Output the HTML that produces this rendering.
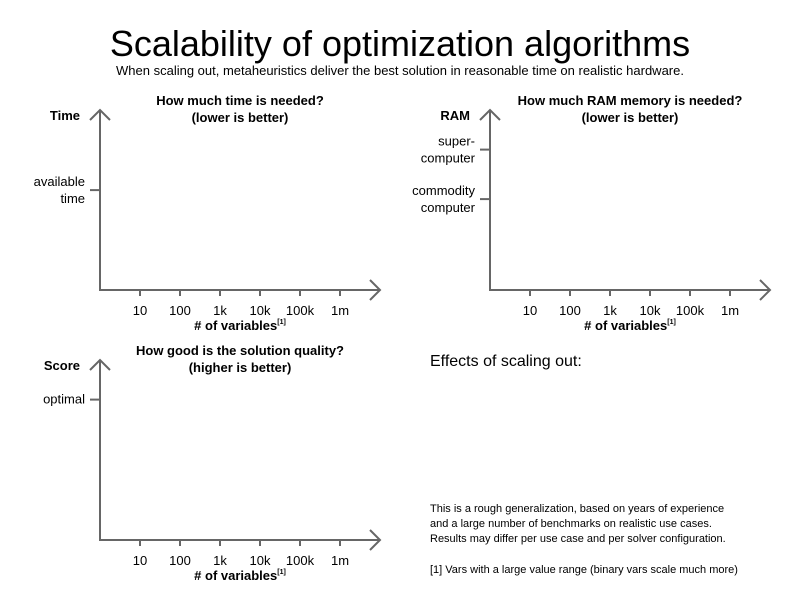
<!DOCTYPE html>
<html><head><meta charset="utf-8"><style>
body{margin:0;background:#fff;width:800px;height:600px;overflow:hidden}
svg{font-family:"Liberation Sans",Arial,sans-serif}
</style></head><body>
<svg id="c" width="800" height="600" viewBox="0 0 800 600">
<text x="400" y="56" font-size="36" text-anchor="middle">Scalability of optimization algorithms</text>
<text x="400" y="75" font-size="13" text-anchor="middle">When scaling out, metaheuristics deliver the best solution in reasonable time on realistic hardware.</text>
<text x="430" y="366" font-size="16">Effects of scaling out:</text>
<g font-size="11">
<text x="430" y="512">This is a rough generalization, based on years of experience</text>
<text x="430" y="527">and a large number of benchmarks on realistic use cases.</text>
<text x="430" y="542">Results may differ per use case and per solver configuration.</text>
<text x="430" y="573">[1] Vars with a large value range (binary vars scale much more)</text>
</g>
</svg>
<script>
const xCategories=["10","100","1k","10k","100k","1m"];
const timeTicks=[{v:0.555,l:["available","time"]}];
const ramTicks=[{v:0.78,l:["super-","computer"]},{v:0.505,l:["commodity","computer"]}];
const scoreTicks=[{v:0.78,l:["optimal"]}];
const panels=[
 {name:"time",ox:100,oy:290,w:280,t:["How much time is needed?","(lower is better)"],yl:"Time",ticks:timeTicks},
 {name:"ram",ox:490,oy:290,w:280,t:["How much RAM memory is needed?","(lower is better)"],yl:"RAM",ticks:ramTicks},
 {name:"score",ox:100,oy:540,w:280,t:["How good is the solution quality?","(higher is better)"],yl:"Score",ticks:scoreTicks}
];
const svg=document.getElementById('c');const NS="http://www.w3.org/2000/svg";
function mk(tag,attrs,parent,txt){const e=document.createElementNS(NS,tag);for(const k in attrs)e.setAttribute(k,attrs[k]);if(txt!==undefined)e.textContent=txt;parent.appendChild(e);return e;}
panels.forEach(p=>{
 const g=mk('g',{},svg);
 
 
 const H=180;
 const yS=v=>p.oy-v*H;
 const xS=i=>p.ox+40+i*40;
 const ax=mk('path',{d:`M${p.ox} ${p.oy-H}V${p.oy}H${p.ox+p.w}M${p.ox-10} ${p.oy-H+10}L${p.ox} ${p.oy-H}L${p.ox+10} ${p.oy-H+10}M${p.ox+p.w-10} ${p.oy-10}L${p.ox+p.w} ${p.oy}L${p.ox+p.w-10} ${p.oy+10}`,stroke:'#666','stroke-width':2,fill:'none'},g);
 
 
 const cx=p.ox+140;
 p.t.forEach((s,i)=>{const t=mk('text',{x:cx,y:p.oy-185+i*17,'font-size':13,'font-weight':'bold','text-anchor':'middle'},g,s);
  
  });
 const yl=mk('text',{x:p.ox-20,y:p.oy-170,'font-size':13,'font-weight':'bold','text-anchor':'end'},g,p.yl);
 
 
 xCategories.forEach((c,i)=>{
  const tk=mk('line',{x1:xS(i),x2:xS(i),y1:p.oy,y2:p.oy+6,stroke:'#666','stroke-width':2},g);
  
  
  const tl=mk('text',{x:xS(i),y:p.oy+25,'font-size':13,'text-anchor':'middle'},g,c);
  
  
 });
 const xt=mk('text',{x:cx,y:p.oy+40,'font-size':13,'font-weight':'bold','text-anchor':'middle'},g,'# of variables');
 mk('tspan',{'font-size':7,dy:-6},xt,'[1]');
 
 
 p.ticks.forEach(tk=>{
  const y=yS(tk.v);
  const l=mk('line',{x1:p.ox-10,x2:p.ox,y1:y,y2:y,stroke:'#666','stroke-width':2},g);
  
  
  const off=tk.l.length==2?-4:4;
  tk.l.forEach((s,i)=>{const t=mk('text',{x:p.ox-15,y:y+off+i*17,'font-size':13,'text-anchor':'end'},g,s);
   
   });
 });
});
</script>
</body></html>
